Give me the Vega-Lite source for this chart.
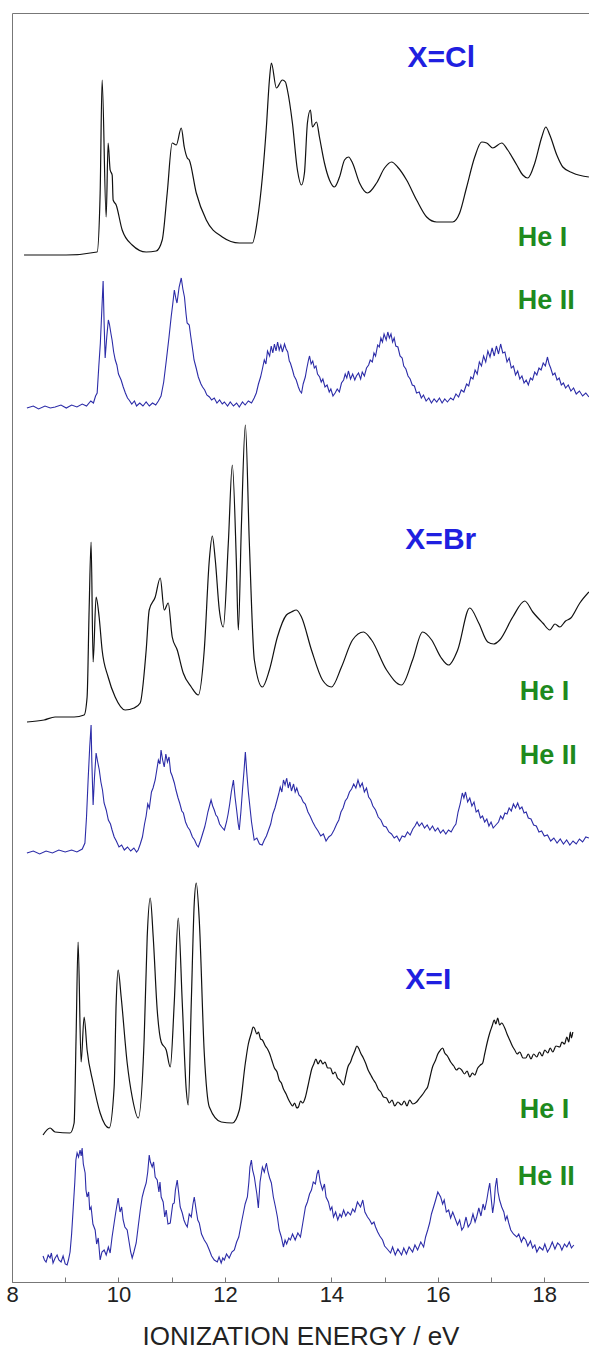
{
"$schema":"https://vega.github.io/schema/vega-lite/v6.json",
"width":577,"height":1269,
"autosize":{"type":"none"},
"padding":{"left":12,"top":13,"right":0,"bottom":74},
"background":"white",
"config":{"view":{"stroke":"#777","strokeWidth":1},"font":"Liberation Sans"},
"datasets":{
"hei":[
{"s":"ClI","e":8.226,"v":1027},{"s":"ClI","e":9.016,"v":1027},{"s":"ClI","e":9.599,"v":1030},{"s":"ClI","e":9.656,"v":1089},{"s":"ClI","e":9.693,"v":1202},{"s":"ClI","e":9.769,"v":1065},{"s":"ClI","e":9.806,"v":1139},{"s":"ClI","e":9.844,"v":1112},{"s":"ClI","e":9.882,"v":1107},{"s":"ClI","e":9.900,"v":1082},{"s":"ClI","e":9.957,"v":1077},{"s":"ClI","e":10.070,"v":1052},{"s":"ClI","e":10.258,"v":1037},{"s":"ClI","e":10.521,"v":1030},{"s":"ClI","e":10.709,"v":1031},{"s":"ClI","e":10.822,"v":1042},{"s":"ClI","e":10.916,"v":1089},{"s":"ClI","e":11.010,"v":1139},{"s":"ClI","e":11.086,"v":1137},{"s":"ClI","e":11.180,"v":1154},{"s":"ClI","e":11.236,"v":1135},{"s":"ClI","e":11.293,"v":1124},{"s":"ClI","e":11.330,"v":1122},{"s":"ClI","e":11.462,"v":1089},{"s":"ClI","e":11.650,"v":1062},{"s":"ClI","e":11.951,"v":1045},{"s":"ClI","e":12.271,"v":1039},{"s":"ClI","e":12.516,"v":1039},{"s":"ClI","e":12.610,"v":1062},{"s":"ClI","e":12.704,"v":1105},{"s":"ClI","e":12.779,"v":1155},{"s":"ClI","e":12.836,"v":1202},{"s":"ClI","e":12.873,"v":1219},{"s":"ClI","e":12.967,"v":1194},{"s":"ClI","e":13.080,"v":1202},{"s":"ClI","e":13.137,"v":1200},{"s":"ClI","e":13.174,"v":1192},{"s":"ClI","e":13.268,"v":1159},{"s":"ClI","e":13.362,"v":1112},{"s":"ClI","e":13.438,"v":1097},{"s":"ClI","e":13.494,"v":1109},{"s":"ClI","e":13.550,"v":1159},{"s":"ClI","e":13.607,"v":1172},{"s":"ClI","e":13.644,"v":1155},{"s":"ClI","e":13.720,"v":1160},{"s":"ClI","e":13.776,"v":1145},{"s":"ClI","e":13.870,"v":1119},{"s":"ClI","e":13.964,"v":1102},{"s":"ClI","e":14.058,"v":1095},{"s":"ClI","e":14.153,"v":1105},{"s":"ClI","e":14.247,"v":1122},{"s":"ClI","e":14.322,"v":1125},{"s":"ClI","e":14.397,"v":1119},{"s":"ClI","e":14.529,"v":1099},{"s":"ClI","e":14.679,"v":1089},{"s":"ClI","e":14.849,"v":1099},{"s":"ClI","e":14.999,"v":1114},{"s":"ClI","e":15.131,"v":1120},{"s":"ClI","e":15.244,"v":1115},{"s":"ClI","e":15.413,"v":1102},{"s":"ClI","e":15.601,"v":1082},{"s":"ClI","e":15.790,"v":1065},{"s":"ClI","e":15.978,"v":1060},{"s":"ClI","e":16.279,"v":1060},{"s":"ClI","e":16.410,"v":1069},{"s":"ClI","e":16.542,"v":1095},{"s":"ClI","e":16.693,"v":1125},{"s":"ClI","e":16.824,"v":1140},{"s":"ClI","e":16.918,"v":1139},{"s":"ClI","e":17.031,"v":1134},{"s":"ClI","e":17.200,"v":1139},{"s":"ClI","e":17.313,"v":1132},{"s":"ClI","e":17.483,"v":1117},{"s":"ClI","e":17.596,"v":1107},{"s":"ClI","e":17.690,"v":1104},{"s":"ClI","e":17.822,"v":1119},{"s":"ClI","e":17.953,"v":1145},{"s":"ClI","e":18.028,"v":1155},{"s":"ClI","e":18.104,"v":1147},{"s":"ClI","e":18.235,"v":1127},{"s":"ClI","e":18.348,"v":1115},{"s":"ClI","e":18.536,"v":1109},{"s":"ClI","e":18.838,"v":1105},
{"s":"BrI","e":8.282,"v":560},{"s":"BrI","e":8.602,"v":562},{"s":"BrI","e":8.809,"v":565},{"s":"BrI","e":9.167,"v":565},{"s":"BrI","e":9.355,"v":567},{"s":"BrI","e":9.411,"v":585},{"s":"BrI","e":9.449,"v":672},{"s":"BrI","e":9.486,"v":740},{"s":"BrI","e":9.524,"v":620},{"s":"BrI","e":9.580,"v":685},{"s":"BrI","e":9.637,"v":665},{"s":"BrI","e":9.693,"v":632},{"s":"BrI","e":9.806,"v":605},{"s":"BrI","e":9.938,"v":585},{"s":"BrI","e":10.126,"v":572},{"s":"BrI","e":10.295,"v":574},{"s":"BrI","e":10.408,"v":579},{"s":"BrI","e":10.521,"v":632},{"s":"BrI","e":10.578,"v":672},{"s":"BrI","e":10.691,"v":685},{"s":"BrI","e":10.785,"v":704},{"s":"BrI","e":10.860,"v":672},{"s":"BrI","e":10.935,"v":679},{"s":"BrI","e":11.010,"v":645},{"s":"BrI","e":11.104,"v":632},{"s":"BrI","e":11.217,"v":609},{"s":"BrI","e":11.368,"v":595},{"s":"BrI","e":11.500,"v":587},{"s":"BrI","e":11.612,"v":632},{"s":"BrI","e":11.707,"v":722},{"s":"BrI","e":11.763,"v":746},{"s":"BrI","e":11.819,"v":722},{"s":"BrI","e":11.895,"v":672},{"s":"BrI","e":11.970,"v":655},{"s":"BrI","e":12.064,"v":739},{"s":"BrI","e":12.139,"v":817},{"s":"BrI","e":12.214,"v":722},{"s":"BrI","e":12.252,"v":652},{"s":"BrI","e":12.309,"v":755},{"s":"BrI","e":12.384,"v":857},{"s":"BrI","e":12.459,"v":739},{"s":"BrI","e":12.553,"v":622},{"s":"BrI","e":12.704,"v":595},{"s":"BrI","e":12.836,"v":612},{"s":"BrI","e":12.986,"v":645},{"s":"BrI","e":13.155,"v":667},{"s":"BrI","e":13.25,"v":670},{"s":"BrI","e":13.343,"v":672},{"s":"BrI","e":13.438,"v":665},{"s":"BrI","e":13.626,"v":632},{"s":"BrI","e":13.833,"v":602},{"s":"BrI","e":14.002,"v":595},{"s":"BrI","e":14.190,"v":615},{"s":"BrI","e":14.397,"v":642},{"s":"BrI","e":14.604,"v":650},{"s":"BrI","e":14.755,"v":642},{"s":"BrI","e":15.037,"v":612},{"s":"BrI","e":15.319,"v":597},{"s":"BrI","e":15.526,"v":622},{"s":"BrI","e":15.714,"v":650},{"s":"BrI","e":15.884,"v":642},{"s":"BrI","e":16.053,"v":625},{"s":"BrI","e":16.203,"v":617},{"s":"BrI","e":16.373,"v":632},{"s":"BrI","e":16.599,"v":674},{"s":"BrI","e":16.768,"v":659},{"s":"BrI","e":16.937,"v":640},{"s":"BrI","e":17.05,"v":638},{"s":"BrI","e":17.163,"v":642},{"s":"BrI","e":17.408,"v":665},{"s":"BrI","e":17.633,"v":681},{"s":"BrI","e":17.784,"v":670},{"s":"BrI","e":17.972,"v":659},{"s":"BrI","e":18.104,"v":652},{"s":"BrI","e":18.20,"v":658},{"s":"BrI","e":18.292,"v":655},{"s":"BrI","e":18.40,"v":661},{"s":"BrI","e":18.499,"v":664},{"s":"BrI","e":18.668,"v":679},{"s":"BrI","e":18.838,"v":690},
{"s":"II","e":8.583,"v":147},{"s":"II","e":8.715,"v":154},{"s":"II","e":8.809,"v":150},{"s":"II","e":9.091,"v":149},{"s":"II","e":9.167,"v":159},{"s":"II","e":9.204,"v":245},{"s":"II","e":9.242,"v":340},{"s":"II","e":9.298,"v":220},{"s":"II","e":9.355,"v":265},{"s":"II","e":9.411,"v":232},{"s":"II","e":9.524,"v":199},{"s":"II","e":9.656,"v":169},{"s":"II","e":9.825,"v":154},{"s":"II","e":9.919,"v":195},{"s":"II","e":9.957,"v":279},{"s":"II","e":9.994,"v":312},{"s":"II","e":10.051,"v":285},{"s":"II","e":10.164,"v":219},{"s":"II","e":10.258,"v":185},{"s":"II","e":10.371,"v":164},{"s":"II","e":10.484,"v":245},{"s":"II","e":10.540,"v":345},{"s":"II","e":10.597,"v":384},{"s":"II","e":10.653,"v":345},{"s":"II","e":10.728,"v":272},{"s":"II","e":10.803,"v":240},{"s":"II","e":10.897,"v":232},{"s":"II","e":10.973,"v":215},{"s":"II","e":11.048,"v":279},{"s":"II","e":11.123,"v":364},{"s":"II","e":11.199,"v":279},{"s":"II","e":11.274,"v":192},{"s":"II","e":11.311,"v":177},{"s":"II","e":11.368,"v":279},{"s":"II","e":11.424,"v":379},{"s":"II","e":11.462,"v":399},{"s":"II","e":11.518,"v":362},{"s":"II","e":11.612,"v":229},{"s":"II","e":11.707,"v":175},{"s":"II","e":11.932,"v":160},{"s":"II","e":12.139,"v":159},{"s":"II","e":12.271,"v":172},{"s":"II","e":12.384,"v":219},{"s":"II","e":12.44,"v":238},{"s":"II","e":12.497,"v":249},{"s":"II","e":12.53,"v":255},{"s":"II","e":12.553,"v":254},{"s":"II","e":12.60,"v":248},{"s":"II","e":12.63,"v":250},{"s":"II","e":12.67,"v":243},{"s":"II","e":12.704,"v":242},{"s":"II","e":12.76,"v":236},{"s":"II","e":12.80,"v":233},{"s":"II","e":12.836,"v":229},{"s":"II","e":12.88,"v":222},{"s":"II","e":12.93,"v":214},{"s":"II","e":12.98,"v":210},{"s":"II","e":13.02,"v":202},{"s":"II","e":13.061,"v":199},{"s":"II","e":13.10,"v":193},{"s":"II","e":13.15,"v":188},{"s":"II","e":13.19,"v":183},{"s":"II","e":13.230,"v":179},{"s":"II","e":13.27,"v":176},{"s":"II","e":13.31,"v":179},{"s":"II","e":13.35,"v":174},{"s":"II","e":13.381,"v":175},{"s":"II","e":13.42,"v":181},{"s":"II","e":13.46,"v":179},{"s":"II","e":13.513,"v":185},{"s":"II","e":13.56,"v":196},{"s":"II","e":13.60,"v":206},{"s":"II","e":13.626,"v":212},{"s":"II","e":13.67,"v":218},{"s":"II","e":13.71,"v":223},{"s":"II","e":13.75,"v":218},{"s":"II","e":13.795,"v":222},{"s":"II","e":13.84,"v":218},{"s":"II","e":13.88,"v":220},{"s":"II","e":13.93,"v":214},{"s":"II","e":13.983,"v":214},{"s":"II","e":14.03,"v":208},{"s":"II","e":14.07,"v":210},{"s":"II","e":14.115,"v":204},{"s":"II","e":14.16,"v":202},{"s":"II","e":14.228,"v":197},{"s":"II","e":14.27,"v":206},{"s":"II","e":14.31,"v":215},{"s":"II","e":14.360,"v":220},{"s":"II","e":14.40,"v":226},{"s":"II","e":14.44,"v":231},{"s":"II","e":14.48,"v":236},{"s":"II","e":14.510,"v":234},{"s":"II","e":14.55,"v":229},{"s":"II","e":14.60,"v":224},{"s":"II","e":14.642,"v":219},{"s":"II","e":14.69,"v":212},{"s":"II","e":14.74,"v":207},{"s":"II","e":14.78,"v":203},{"s":"II","e":14.830,"v":199},{"s":"II","e":14.88,"v":193},{"s":"II","e":14.93,"v":190},{"s":"II","e":14.98,"v":185},{"s":"II","e":15.037,"v":184},{"s":"II","e":15.09,"v":179},{"s":"II","e":15.14,"v":182},{"s":"II","e":15.19,"v":176},{"s":"II","e":15.25,"v":180},{"s":"II","e":15.319,"v":177},{"s":"II","e":15.37,"v":181},{"s":"II","e":15.42,"v":176},{"s":"II","e":15.47,"v":182},{"s":"II","e":15.53,"v":178},{"s":"II","e":15.601,"v":180},{"s":"II","e":15.66,"v":184},{"s":"II","e":15.72,"v":188},{"s":"II","e":15.77,"v":192},{"s":"II","e":15.808,"v":195},{"s":"II","e":15.85,"v":204},{"s":"II","e":15.90,"v":215},{"s":"II","e":15.959,"v":222},{"s":"II","e":16.00,"v":228},{"s":"II","e":16.05,"v":232},{"s":"II","e":16.091,"v":234},{"s":"II","e":16.13,"v":229},{"s":"II","e":16.18,"v":226},{"s":"II","e":16.241,"v":220},{"s":"II","e":16.30,"v":216},{"s":"II","e":16.35,"v":212},{"s":"II","e":16.40,"v":214},{"s":"II","e":16.448,"v":212},{"s":"II","e":16.50,"v":208},{"s":"II","e":16.55,"v":211},{"s":"II","e":16.60,"v":205},{"s":"II","e":16.65,"v":209},{"s":"II","e":16.693,"v":207},{"s":"II","e":16.75,"v":214},{"s":"II","e":16.80,"v":217},{"s":"II","e":16.843,"v":219},{"s":"II","e":16.88,"v":228},{"s":"II","e":16.93,"v":240},{"s":"II","e":16.975,"v":249},{"s":"II","e":17.02,"v":256},{"s":"II","e":17.06,"v":262},{"s":"II","e":17.09,"v":258},{"s":"II","e":17.125,"v":264},{"s":"II","e":17.16,"v":257},{"s":"II","e":17.20,"v":259},{"s":"II","e":17.257,"v":254},{"s":"II","e":17.30,"v":248},{"s":"II","e":17.35,"v":242},{"s":"II","e":17.40,"v":236},{"s":"II","e":17.445,"v":232},{"s":"II","e":17.49,"v":228},{"s":"II","e":17.54,"v":230},{"s":"II","e":17.60,"v":224},{"s":"II","e":17.652,"v":224},{"s":"II","e":17.70,"v":228},{"s":"II","e":17.75,"v":223},{"s":"II","e":17.80,"v":228},{"s":"II","e":17.859,"v":225},{"s":"II","e":17.91,"v":230},{"s":"II","e":17.96,"v":226},{"s":"II","e":18.01,"v":232},{"s":"II","e":18.066,"v":229},{"s":"II","e":18.11,"v":234},{"s":"II","e":18.16,"v":230},{"s":"II","e":18.22,"v":236},{"s":"II","e":18.292,"v":235},{"s":"II","e":18.33,"v":240},{"s":"II","e":18.38,"v":238},{"s":"II","e":18.424,"v":245},{"s":"II","e":18.46,"v":240},{"s":"II","e":18.49,"v":250},{"s":"II","e":18.51,"v":244},{"s":"II","e":18.536,"v":250}
],
"heii":[
{"s":"ClII","e":8.28,"v":874},{"s":"ClII","e":8.40,"v":876},{"s":"ClII","e":8.50,"v":873},{"s":"ClII","e":8.62,"v":876},{"s":"ClII","e":8.72,"v":874},{"s":"ClII","e":8.81,"v":875},{"s":"ClII","e":8.92,"v":877},{"s":"ClII","e":9.02,"v":874},{"s":"ClII","e":9.12,"v":877},{"s":"ClII","e":9.22,"v":875},{"s":"ClII","e":9.32,"v":878},{"s":"ClII","e":9.40,"v":876},{"s":"ClII","e":9.48,"v":881},{"s":"ClII","e":9.53,"v":879},{"s":"ClII","e":9.57,"v":886},{"s":"ClII","e":9.60,"v":889},{"s":"ClII","e":9.63,"v":915},{"s":"ClII","e":9.66,"v":939},{"s":"ClII","e":9.69,"v":975},{"s":"ClII","e":9.712,"v":1001},{"s":"ClII","e":9.73,"v":960},{"s":"ClII","e":9.75,"v":924},{"s":"ClII","e":9.78,"v":945},{"s":"ClII","e":9.81,"v":962},{"s":"ClII","e":9.83,"v":958},{"s":"ClII","e":9.86,"v":948},{"s":"ClII","e":9.88,"v":942},{"s":"ClII","e":9.91,"v":930},{"s":"ClII","e":9.94,"v":922},{"s":"ClII","e":9.97,"v":917},{"s":"ClII","e":10.00,"v":908},{"s":"ClII","e":10.05,"v":902},{"s":"ClII","e":10.09,"v":895},{"s":"ClII","e":10.13,"v":889},{"s":"ClII","e":10.17,"v":884},{"s":"ClII","e":10.20,"v":882},{"s":"ClII","e":10.25,"v":878},{"s":"ClII","e":10.30,"v":881},{"s":"ClII","e":10.34,"v":876},{"s":"ClII","e":10.40,"v":879},{"s":"ClII","e":10.46,"v":876},{"s":"ClII","e":10.52,"v":880},{"s":"ClII","e":10.58,"v":876},{"s":"ClII","e":10.64,"v":879},{"s":"ClII","e":10.70,"v":877},{"s":"ClII","e":10.75,"v":881},{"s":"ClII","e":10.80,"v":886},{"s":"ClII","e":10.85,"v":900},{"s":"ClII","e":10.90,"v":922},{"s":"ClII","e":10.95,"v":945},{"s":"ClII","e":10.99,"v":965},{"s":"ClII","e":11.02,"v":978},{"s":"ClII","e":11.05,"v":992},{"s":"ClII","e":11.08,"v":983},{"s":"ClII","e":11.10,"v":979},{"s":"ClII","e":11.14,"v":995},{"s":"ClII","e":11.18,"v":1004},{"s":"ClII","e":11.21,"v":993},{"s":"ClII","e":11.24,"v":985},{"s":"ClII","e":11.27,"v":968},{"s":"ClII","e":11.29,"v":959},{"s":"ClII","e":11.33,"v":957},{"s":"ClII","e":11.36,"v":945},{"s":"ClII","e":11.40,"v":930},{"s":"ClII","e":11.42,"v":922},{"s":"ClII","e":11.46,"v":914},{"s":"ClII","e":11.50,"v":905},{"s":"ClII","e":11.55,"v":898},{"s":"ClII","e":11.58,"v":895},{"s":"ClII","e":11.62,"v":892},{"s":"ClII","e":11.66,"v":887},{"s":"ClII","e":11.71,"v":885},{"s":"ClII","e":11.75,"v":882},{"s":"ClII","e":11.80,"v":884},{"s":"ClII","e":11.85,"v":879},{"s":"ClII","e":11.90,"v":882},{"s":"ClII","e":11.95,"v":878},{"s":"ClII","e":11.99,"v":880},{"s":"ClII","e":12.05,"v":876},{"s":"ClII","e":12.10,"v":880},{"s":"ClII","e":12.16,"v":876},{"s":"ClII","e":12.22,"v":879},{"s":"ClII","e":12.27,"v":875},{"s":"ClII","e":12.33,"v":880},{"s":"ClII","e":12.38,"v":877},{"s":"ClII","e":12.44,"v":881},{"s":"ClII","e":12.50,"v":879},{"s":"ClII","e":12.55,"v":884},{"s":"ClII","e":12.59,"v":889},{"s":"ClII","e":12.63,"v":898},{"s":"ClII","e":12.67,"v":905},{"s":"ClII","e":12.70,"v":912},{"s":"ClII","e":12.74,"v":922},{"s":"ClII","e":12.77,"v":918},{"s":"ClII","e":12.80,"v":931},{"s":"ClII","e":12.84,"v":926},{"s":"ClII","e":12.87,"v":936},{"s":"ClII","e":12.90,"v":929},{"s":"ClII","e":12.93,"v":938},{"s":"ClII","e":12.96,"v":931},{"s":"ClII","e":12.99,"v":940},{"s":"ClII","e":13.02,"v":932},{"s":"ClII","e":13.05,"v":937},{"s":"ClII","e":13.08,"v":930},{"s":"ClII","e":13.12,"v":938},{"s":"ClII","e":13.15,"v":933},{"s":"ClII","e":13.18,"v":930},{"s":"ClII","e":13.21,"v":921},{"s":"ClII","e":13.23,"v":919},{"s":"ClII","e":13.27,"v":912},{"s":"ClII","e":13.30,"v":906},{"s":"ClII","e":13.34,"v":902},{"s":"ClII","e":13.38,"v":895},{"s":"ClII","e":13.41,"v":891},{"s":"ClII","e":13.44,"v":889},{"s":"ClII","e":13.47,"v":898},{"s":"ClII","e":13.51,"v":905},{"s":"ClII","e":13.54,"v":914},{"s":"ClII","e":13.57,"v":922},{"s":"ClII","e":13.59,"v":926},{"s":"ClII","e":13.62,"v":918},{"s":"ClII","e":13.65,"v":921},{"s":"ClII","e":13.68,"v":914},{"s":"ClII","e":13.71,"v":916},{"s":"ClII","e":13.74,"v":908},{"s":"ClII","e":13.78,"v":905},{"s":"ClII","e":13.81,"v":900},{"s":"ClII","e":13.84,"v":903},{"s":"ClII","e":13.88,"v":895},{"s":"ClII","e":13.92,"v":897},{"s":"ClII","e":13.96,"v":890},{"s":"ClII","e":13.99,"v":893},{"s":"ClII","e":14.03,"v":886},{"s":"ClII","e":14.07,"v":889},{"s":"ClII","e":14.11,"v":893},{"s":"ClII","e":14.15,"v":890},{"s":"ClII","e":14.19,"v":899},{"s":"ClII","e":14.23,"v":902},{"s":"ClII","e":14.26,"v":908},{"s":"ClII","e":14.29,"v":904},{"s":"ClII","e":14.32,"v":911},{"s":"ClII","e":14.36,"v":903},{"s":"ClII","e":14.40,"v":908},{"s":"ClII","e":14.44,"v":902},{"s":"ClII","e":14.47,"v":906},{"s":"ClII","e":14.51,"v":909},{"s":"ClII","e":14.55,"v":903},{"s":"ClII","e":14.58,"v":910},{"s":"ClII","e":14.62,"v":906},{"s":"ClII","e":14.66,"v":914},{"s":"ClII","e":14.70,"v":917},{"s":"ClII","e":14.73,"v":922},{"s":"ClII","e":14.77,"v":920},{"s":"ClII","e":14.80,"v":929},{"s":"ClII","e":14.83,"v":926},{"s":"ClII","e":14.87,"v":937},{"s":"ClII","e":14.90,"v":935},{"s":"ClII","e":14.93,"v":944},{"s":"ClII","e":14.96,"v":940},{"s":"ClII","e":14.99,"v":948},{"s":"ClII","e":15.03,"v":942},{"s":"ClII","e":15.06,"v":950},{"s":"ClII","e":15.09,"v":944},{"s":"ClII","e":15.12,"v":948},{"s":"ClII","e":15.15,"v":940},{"s":"ClII","e":15.18,"v":944},{"s":"ClII","e":15.21,"v":936},{"s":"ClII","e":15.25,"v":935},{"s":"ClII","e":15.29,"v":926},{"s":"ClII","e":15.33,"v":924},{"s":"ClII","e":15.36,"v":916},{"s":"ClII","e":15.40,"v":913},{"s":"ClII","e":15.44,"v":906},{"s":"ClII","e":15.48,"v":903},{"s":"ClII","e":15.52,"v":897},{"s":"ClII","e":15.56,"v":896},{"s":"ClII","e":15.60,"v":889},{"s":"ClII","e":15.65,"v":890},{"s":"ClII","e":15.69,"v":884},{"s":"ClII","e":15.73,"v":887},{"s":"ClII","e":15.78,"v":881},{"s":"ClII","e":15.83,"v":884},{"s":"ClII","e":15.88,"v":879},{"s":"ClII","e":15.93,"v":883},{"s":"ClII","e":15.98,"v":880},{"s":"ClII","e":16.03,"v":884},{"s":"ClII","e":16.08,"v":879},{"s":"ClII","e":16.13,"v":883},{"s":"ClII","e":16.18,"v":880},{"s":"ClII","e":16.24,"v":884},{"s":"ClII","e":16.29,"v":882},{"s":"ClII","e":16.34,"v":888},{"s":"ClII","e":16.39,"v":885},{"s":"ClII","e":16.44,"v":892},{"s":"ClII","e":16.49,"v":890},{"s":"ClII","e":16.54,"v":898},{"s":"ClII","e":16.58,"v":896},{"s":"ClII","e":16.62,"v":905},{"s":"ClII","e":16.66,"v":903},{"s":"ClII","e":16.70,"v":912},{"s":"ClII","e":16.74,"v":908},{"s":"ClII","e":16.78,"v":920},{"s":"ClII","e":16.82,"v":916},{"s":"ClII","e":16.86,"v":926},{"s":"ClII","e":16.90,"v":920},{"s":"ClII","e":16.94,"v":931},{"s":"ClII","e":16.98,"v":925},{"s":"ClII","e":17.02,"v":934},{"s":"ClII","e":17.06,"v":926},{"s":"ClII","e":17.10,"v":936},{"s":"ClII","e":17.14,"v":928},{"s":"ClII","e":17.18,"v":938},{"s":"ClII","e":17.22,"v":929},{"s":"ClII","e":17.26,"v":930},{"s":"ClII","e":17.30,"v":920},{"s":"ClII","e":17.34,"v":924},{"s":"ClII","e":17.38,"v":914},{"s":"ClII","e":17.42,"v":916},{"s":"ClII","e":17.46,"v":907},{"s":"ClII","e":17.50,"v":911},{"s":"ClII","e":17.54,"v":903},{"s":"ClII","e":17.58,"v":906},{"s":"ClII","e":17.62,"v":899},{"s":"ClII","e":17.66,"v":902},{"s":"ClII","e":17.70,"v":897},{"s":"ClII","e":17.74,"v":904},{"s":"ClII","e":17.78,"v":902},{"s":"ClII","e":17.82,"v":910},{"s":"ClII","e":17.86,"v":907},{"s":"ClII","e":17.90,"v":914},{"s":"ClII","e":17.94,"v":912},{"s":"ClII","e":17.98,"v":919},{"s":"ClII","e":18.02,"v":916},{"s":"ClII","e":18.06,"v":925},{"s":"ClII","e":18.09,"v":918},{"s":"ClII","e":18.12,"v":914},{"s":"ClII","e":18.16,"v":907},{"s":"ClII","e":18.20,"v":909},{"s":"ClII","e":18.24,"v":902},{"s":"ClII","e":18.28,"v":904},{"s":"ClII","e":18.32,"v":897},{"s":"ClII","e":18.36,"v":899},{"s":"ClII","e":18.40,"v":894},{"s":"ClII","e":18.45,"v":897},{"s":"ClII","e":18.50,"v":891},{"s":"ClII","e":18.55,"v":894},{"s":"ClII","e":18.60,"v":888},{"s":"ClII","e":18.66,"v":891},{"s":"ClII","e":18.72,"v":886},{"s":"ClII","e":18.78,"v":889},{"s":"ClII","e":18.838,"v":885},
{"s":"BrII","e":8.28,"v":429},{"s":"BrII","e":8.40,"v":431},{"s":"BrII","e":8.52,"v":428},{"s":"BrII","e":8.64,"v":431},{"s":"BrII","e":8.76,"v":429},{"s":"BrII","e":8.88,"v":432},{"s":"BrII","e":9.00,"v":430},{"s":"BrII","e":9.12,"v":432},{"s":"BrII","e":9.22,"v":430},{"s":"BrII","e":9.32,"v":433},{"s":"BrII","e":9.37,"v":439},{"s":"BrII","e":9.40,"v":465},{"s":"BrII","e":9.43,"v":502},{"s":"BrII","e":9.46,"v":535},{"s":"BrII","e":9.486,"v":557},{"s":"BrII","e":9.50,"v":520},{"s":"BrII","e":9.524,"v":477},{"s":"BrII","e":9.55,"v":505},{"s":"BrII","e":9.58,"v":529},{"s":"BrII","e":9.61,"v":520},{"s":"BrII","e":9.64,"v":512},{"s":"BrII","e":9.67,"v":500},{"s":"BrII","e":9.70,"v":492},{"s":"BrII","e":9.73,"v":479},{"s":"BrII","e":9.77,"v":472},{"s":"BrII","e":9.81,"v":462},{"s":"BrII","e":9.85,"v":458},{"s":"BrII","e":9.88,"v":452},{"s":"BrII","e":9.92,"v":445},{"s":"BrII","e":9.96,"v":441},{"s":"BrII","e":10.01,"v":435},{"s":"BrII","e":10.06,"v":437},{"s":"BrII","e":10.11,"v":432},{"s":"BrII","e":10.17,"v":435},{"s":"BrII","e":10.23,"v":431},{"s":"BrII","e":10.29,"v":434},{"s":"BrII","e":10.34,"v":430},{"s":"BrII","e":10.37,"v":432},{"s":"BrII","e":10.41,"v":438},{"s":"BrII","e":10.45,"v":445},{"s":"BrII","e":10.49,"v":458},{"s":"BrII","e":10.52,"v":466},{"s":"BrII","e":10.55,"v":478},{"s":"BrII","e":10.58,"v":474},{"s":"BrII","e":10.62,"v":490},{"s":"BrII","e":10.65,"v":494},{"s":"BrII","e":10.69,"v":502},{"s":"BrII","e":10.72,"v":512},{"s":"BrII","e":10.75,"v":522},{"s":"BrII","e":10.78,"v":518},{"s":"BrII","e":10.80,"v":532},{"s":"BrII","e":10.83,"v":522},{"s":"BrII","e":10.86,"v":515},{"s":"BrII","e":10.89,"v":528},{"s":"BrII","e":10.92,"v":520},{"s":"BrII","e":10.95,"v":525},{"s":"BrII","e":10.98,"v":510},{"s":"BrII","e":11.01,"v":506},{"s":"BrII","e":11.05,"v":499},{"s":"BrII","e":11.08,"v":492},{"s":"BrII","e":11.12,"v":484},{"s":"BrII","e":11.15,"v":479},{"s":"BrII","e":11.19,"v":471},{"s":"BrII","e":11.22,"v":469},{"s":"BrII","e":11.26,"v":460},{"s":"BrII","e":11.30,"v":455},{"s":"BrII","e":11.34,"v":452},{"s":"BrII","e":11.39,"v":445},{"s":"BrII","e":11.43,"v":442},{"s":"BrII","e":11.47,"v":437},{"s":"BrII","e":11.50,"v":435},{"s":"BrII","e":11.54,"v":441},{"s":"BrII","e":11.58,"v":448},{"s":"BrII","e":11.62,"v":455},{"s":"BrII","e":11.65,"v":462},{"s":"BrII","e":11.68,"v":470},{"s":"BrII","e":11.71,"v":476},{"s":"BrII","e":11.74,"v":482},{"s":"BrII","e":11.77,"v":476},{"s":"BrII","e":11.80,"v":472},{"s":"BrII","e":11.83,"v":467},{"s":"BrII","e":11.86,"v":465},{"s":"BrII","e":11.90,"v":458},{"s":"BrII","e":11.94,"v":455},{"s":"BrII","e":11.99,"v":452},{"s":"BrII","e":12.03,"v":460},{"s":"BrII","e":12.06,"v":468},{"s":"BrII","e":12.09,"v":478},{"s":"BrII","e":12.12,"v":490},{"s":"BrII","e":12.16,"v":502},{"s":"BrII","e":12.19,"v":485},{"s":"BrII","e":12.22,"v":472},{"s":"BrII","e":12.25,"v":458},{"s":"BrII","e":12.27,"v":452},{"s":"BrII","e":12.30,"v":470},{"s":"BrII","e":12.33,"v":492},{"s":"BrII","e":12.36,"v":512},{"s":"BrII","e":12.384,"v":530},{"s":"BrII","e":12.41,"v":510},{"s":"BrII","e":12.44,"v":490},{"s":"BrII","e":12.47,"v":475},{"s":"BrII","e":12.50,"v":460},{"s":"BrII","e":12.55,"v":442},{"s":"BrII","e":12.60,"v":444},{"s":"BrII","e":12.65,"v":438},{"s":"BrII","e":12.70,"v":437},{"s":"BrII","e":12.74,"v":442},{"s":"BrII","e":12.78,"v":446},{"s":"BrII","e":12.82,"v":452},{"s":"BrII","e":12.86,"v":458},{"s":"BrII","e":12.90,"v":468},{"s":"BrII","e":12.94,"v":474},{"s":"BrII","e":12.98,"v":482},{"s":"BrII","e":13.01,"v":488},{"s":"BrII","e":13.04,"v":495},{"s":"BrII","e":13.07,"v":490},{"s":"BrII","e":13.10,"v":502},{"s":"BrII","e":13.13,"v":497},{"s":"BrII","e":13.16,"v":504},{"s":"BrII","e":13.19,"v":494},{"s":"BrII","e":13.22,"v":500},{"s":"BrII","e":13.25,"v":491},{"s":"BrII","e":13.29,"v":498},{"s":"BrII","e":13.32,"v":490},{"s":"BrII","e":13.35,"v":494},{"s":"BrII","e":13.39,"v":487},{"s":"BrII","e":13.43,"v":485},{"s":"BrII","e":13.47,"v":480},{"s":"BrII","e":13.51,"v":478},{"s":"BrII","e":13.56,"v":470},{"s":"BrII","e":13.60,"v":466},{"s":"BrII","e":13.65,"v":460},{"s":"BrII","e":13.70,"v":455},{"s":"BrII","e":13.75,"v":451},{"s":"BrII","e":13.80,"v":446},{"s":"BrII","e":13.85,"v":448},{"s":"BrII","e":13.90,"v":441},{"s":"BrII","e":13.95,"v":445},{"s":"BrII","e":14.00,"v":447},{"s":"BrII","e":14.05,"v":452},{"s":"BrII","e":14.10,"v":458},{"s":"BrII","e":14.14,"v":462},{"s":"BrII","e":14.18,"v":470},{"s":"BrII","e":14.22,"v":474},{"s":"BrII","e":14.26,"v":481},{"s":"BrII","e":14.30,"v":484},{"s":"BrII","e":14.34,"v":490},{"s":"BrII","e":14.38,"v":493},{"s":"BrII","e":14.42,"v":498},{"s":"BrII","e":14.46,"v":494},{"s":"BrII","e":14.50,"v":502},{"s":"BrII","e":14.54,"v":495},{"s":"BrII","e":14.58,"v":499},{"s":"BrII","e":14.62,"v":490},{"s":"BrII","e":14.66,"v":494},{"s":"BrII","e":14.70,"v":485},{"s":"BrII","e":14.74,"v":482},{"s":"BrII","e":14.78,"v":476},{"s":"BrII","e":14.83,"v":472},{"s":"BrII","e":14.88,"v":465},{"s":"BrII","e":14.93,"v":462},{"s":"BrII","e":14.98,"v":456},{"s":"BrII","e":15.03,"v":455},{"s":"BrII","e":15.08,"v":450},{"s":"BrII","e":15.13,"v":448},{"s":"BrII","e":15.18,"v":444},{"s":"BrII","e":15.23,"v":446},{"s":"BrII","e":15.28,"v":441},{"s":"BrII","e":15.33,"v":446},{"s":"BrII","e":15.38,"v":445},{"s":"BrII","e":15.43,"v":450},{"s":"BrII","e":15.48,"v":447},{"s":"BrII","e":15.53,"v":453},{"s":"BrII","e":15.57,"v":456},{"s":"BrII","e":15.61,"v":460},{"s":"BrII","e":15.65,"v":456},{"s":"BrII","e":15.70,"v":459},{"s":"BrII","e":15.75,"v":454},{"s":"BrII","e":15.80,"v":457},{"s":"BrII","e":15.85,"v":452},{"s":"BrII","e":15.90,"v":456},{"s":"BrII","e":15.95,"v":451},{"s":"BrII","e":16.00,"v":454},{"s":"BrII","e":16.05,"v":449},{"s":"BrII","e":16.10,"v":452},{"s":"BrII","e":16.15,"v":448},{"s":"BrII","e":16.20,"v":452},{"s":"BrII","e":16.25,"v":450},{"s":"BrII","e":16.30,"v":455},{"s":"BrII","e":16.34,"v":458},{"s":"BrII","e":16.38,"v":470},{"s":"BrII","e":16.42,"v":478},{"s":"BrII","e":16.46,"v":489},{"s":"BrII","e":16.49,"v":484},{"s":"BrII","e":16.52,"v":490},{"s":"BrII","e":16.56,"v":480},{"s":"BrII","e":16.60,"v":484},{"s":"BrII","e":16.64,"v":476},{"s":"BrII","e":16.68,"v":480},{"s":"BrII","e":16.72,"v":470},{"s":"BrII","e":16.76,"v":472},{"s":"BrII","e":16.80,"v":464},{"s":"BrII","e":16.84,"v":466},{"s":"BrII","e":16.88,"v":460},{"s":"BrII","e":16.92,"v":463},{"s":"BrII","e":16.96,"v":456},{"s":"BrII","e":17.00,"v":460},{"s":"BrII","e":17.04,"v":454},{"s":"BrII","e":17.09,"v":457},{"s":"BrII","e":17.14,"v":460},{"s":"BrII","e":17.18,"v":466},{"s":"BrII","e":17.22,"v":463},{"s":"BrII","e":17.26,"v":469},{"s":"BrII","e":17.30,"v":468},{"s":"BrII","e":17.34,"v":474},{"s":"BrII","e":17.38,"v":471},{"s":"BrII","e":17.42,"v":478},{"s":"BrII","e":17.46,"v":474},{"s":"BrII","e":17.50,"v":479},{"s":"BrII","e":17.54,"v":473},{"s":"BrII","e":17.58,"v":475},{"s":"BrII","e":17.62,"v":469},{"s":"BrII","e":17.66,"v":470},{"s":"BrII","e":17.70,"v":464},{"s":"BrII","e":17.75,"v":463},{"s":"BrII","e":17.80,"v":457},{"s":"BrII","e":17.85,"v":456},{"s":"BrII","e":17.90,"v":450},{"s":"BrII","e":17.95,"v":451},{"s":"BrII","e":18.00,"v":446},{"s":"BrII","e":18.06,"v":447},{"s":"BrII","e":18.12,"v":441},{"s":"BrII","e":18.18,"v":444},{"s":"BrII","e":18.24,"v":439},{"s":"BrII","e":18.30,"v":443},{"s":"BrII","e":18.36,"v":438},{"s":"BrII","e":18.42,"v":442},{"s":"BrII","e":18.48,"v":437},{"s":"BrII","e":18.54,"v":441},{"s":"BrII","e":18.60,"v":438},{"s":"BrII","e":18.66,"v":443},{"s":"BrII","e":18.72,"v":440},{"s":"BrII","e":18.78,"v":445},{"s":"BrII","e":18.838,"v":444},
{"s":"III","e":8.583,"v":26},{"s":"III","e":8.61,"v":22},{"s":"III","e":8.640,"v":20},{"s":"III","e":8.68,"v":27},{"s":"III","e":8.715,"v":24},{"s":"III","e":8.74,"v":29},{"s":"III","e":8.771,"v":19},{"s":"III","e":8.81,"v":24},{"s":"III","e":8.847,"v":27},{"s":"III","e":8.88,"v":22},{"s":"III","e":8.922,"v":20},{"s":"III","e":8.96,"v":26},{"s":"III","e":9.00,"v":18},{"s":"III","e":9.035,"v":17},{"s":"III","e":9.06,"v":22},{"s":"III","e":9.091,"v":30},{"s":"III","e":9.12,"v":48},{"s":"III","e":9.148,"v":72},{"s":"III","e":9.18,"v":100},{"s":"III","e":9.20,"v":122},{"s":"III","e":9.223,"v":129},{"s":"III","e":9.25,"v":125},{"s":"III","e":9.279,"v":132},{"s":"III","e":9.30,"v":126},{"s":"III","e":9.317,"v":134},{"s":"III","e":9.34,"v":118},{"s":"III","e":9.374,"v":109},{"s":"III","e":9.39,"v":92},{"s":"III","e":9.411,"v":85},{"s":"III","e":9.44,"v":90},{"s":"III","e":9.46,"v":72},{"s":"III","e":9.486,"v":75},{"s":"III","e":9.52,"v":58},{"s":"III","e":9.562,"v":52},{"s":"III","e":9.59,"v":38},{"s":"III","e":9.62,"v":44},{"s":"III","e":9.656,"v":22},{"s":"III","e":9.69,"v":30},{"s":"III","e":9.731,"v":32},{"s":"III","e":9.77,"v":27},{"s":"III","e":9.81,"v":35},{"s":"III","e":9.844,"v":29},{"s":"III","e":9.88,"v":45},{"s":"III","e":9.919,"v":59},{"s":"III","e":9.95,"v":70},{"s":"III","e":9.994,"v":84},{"s":"III","e":10.03,"v":70},{"s":"III","e":10.06,"v":75},{"s":"III","e":10.088,"v":62},{"s":"III","e":10.12,"v":55},{"s":"III","e":10.164,"v":52},{"s":"III","e":10.20,"v":40},{"s":"III","e":10.23,"v":30},{"s":"III","e":10.258,"v":24},{"s":"III","e":10.29,"v":30},{"s":"III","e":10.333,"v":39},{"s":"III","e":10.37,"v":55},{"s":"III","e":10.41,"v":72},{"s":"III","e":10.446,"v":85},{"s":"III","e":10.48,"v":92},{"s":"III","e":10.521,"v":99},{"s":"III","e":10.55,"v":110},{"s":"III","e":10.578,"v":127},{"s":"III","e":10.60,"v":120},{"s":"III","e":10.634,"v":115},{"s":"III","e":10.66,"v":120},{"s":"III","e":10.69,"v":105},{"s":"III","e":10.728,"v":102},{"s":"III","e":10.76,"v":90},{"s":"III","e":10.78,"v":100},{"s":"III","e":10.803,"v":85},{"s":"III","e":10.84,"v":80},{"s":"III","e":10.87,"v":65},{"s":"III","e":10.897,"v":72},{"s":"III","e":10.93,"v":58},{"s":"III","e":10.973,"v":59},{"s":"III","e":11.00,"v":70},{"s":"III","e":11.02,"v":78},{"s":"III","e":11.048,"v":79},{"s":"III","e":11.07,"v":92},{"s":"III","e":11.104,"v":102},{"s":"III","e":11.13,"v":90},{"s":"III","e":11.16,"v":75},{"s":"III","e":11.199,"v":69},{"s":"III","e":11.23,"v":62},{"s":"III","e":11.26,"v":58},{"s":"III","e":11.293,"v":55},{"s":"III","e":11.33,"v":68},{"s":"III","e":11.368,"v":65},{"s":"III","e":11.40,"v":78},{"s":"III","e":11.424,"v":85},{"s":"III","e":11.46,"v":72},{"s":"III","e":11.49,"v":62},{"s":"III","e":11.518,"v":59},{"s":"III","e":11.56,"v":48},{"s":"III","e":11.612,"v":42},{"s":"III","e":11.66,"v":38},{"s":"III","e":11.707,"v":32},{"s":"III","e":11.75,"v":26},{"s":"III","e":11.80,"v":22},{"s":"III","e":11.857,"v":20},{"s":"III","e":11.89,"v":25},{"s":"III","e":11.93,"v":19},{"s":"III","e":11.96,"v":24},{"s":"III","e":11.989,"v":22},{"s":"III","e":12.03,"v":28},{"s":"III","e":12.08,"v":24},{"s":"III","e":12.13,"v":30},{"s":"III","e":12.177,"v":32},{"s":"III","e":12.22,"v":40},{"s":"III","e":12.26,"v":45},{"s":"III","e":12.309,"v":59},{"s":"III","e":12.35,"v":70},{"s":"III","e":12.38,"v":78},{"s":"III","e":12.422,"v":85},{"s":"III","e":12.45,"v":100},{"s":"III","e":12.47,"v":115},{"s":"III","e":12.497,"v":122},{"s":"III","e":12.52,"v":112},{"s":"III","e":12.553,"v":105},{"s":"III","e":12.58,"v":95},{"s":"III","e":12.60,"v":88},{"s":"III","e":12.628,"v":74},{"s":"III","e":12.66,"v":100},{"s":"III","e":12.704,"v":115},{"s":"III","e":12.74,"v":110},{"s":"III","e":12.779,"v":119},{"s":"III","e":12.81,"v":110},{"s":"III","e":12.84,"v":104},{"s":"III","e":12.873,"v":99},{"s":"III","e":12.91,"v":85},{"s":"III","e":12.95,"v":75},{"s":"III","e":12.986,"v":65},{"s":"III","e":13.02,"v":52},{"s":"III","e":13.06,"v":45},{"s":"III","e":13.099,"v":35},{"s":"III","e":13.13,"v":42},{"s":"III","e":13.16,"v":38},{"s":"III","e":13.20,"v":44},{"s":"III","e":13.230,"v":42},{"s":"III","e":13.27,"v":48},{"s":"III","e":13.32,"v":42},{"s":"III","e":13.37,"v":49},{"s":"III","e":13.419,"v":45},{"s":"III","e":13.46,"v":58},{"s":"III","e":13.513,"v":75},{"s":"III","e":13.55,"v":80},{"s":"III","e":13.59,"v":88},{"s":"III","e":13.626,"v":92},{"s":"III","e":13.66,"v":100},{"s":"III","e":13.70,"v":98},{"s":"III","e":13.73,"v":108},{"s":"III","e":13.757,"v":112},{"s":"III","e":13.79,"v":100},{"s":"III","e":13.833,"v":92},{"s":"III","e":13.87,"v":98},{"s":"III","e":13.90,"v":85},{"s":"III","e":13.945,"v":80},{"s":"III","e":13.98,"v":72},{"s":"III","e":14.01,"v":75},{"s":"III","e":14.040,"v":65},{"s":"III","e":14.08,"v":70},{"s":"III","e":14.12,"v":62},{"s":"III","e":14.16,"v":68},{"s":"III","e":14.190,"v":65},{"s":"III","e":14.23,"v":72},{"s":"III","e":14.27,"v":66},{"s":"III","e":14.31,"v":70},{"s":"III","e":14.360,"v":67},{"s":"III","e":14.40,"v":73},{"s":"III","e":14.44,"v":70},{"s":"III","e":14.49,"v":80},{"s":"III","e":14.548,"v":75},{"s":"III","e":14.59,"v":82},{"s":"III","e":14.63,"v":70},{"s":"III","e":14.679,"v":65},{"s":"III","e":14.72,"v":62},{"s":"III","e":14.76,"v":58},{"s":"III","e":14.80,"v":60},{"s":"III","e":14.830,"v":55},{"s":"III","e":14.87,"v":50},{"s":"III","e":14.91,"v":46},{"s":"III","e":14.962,"v":42},{"s":"III","e":15.00,"v":36},{"s":"III","e":15.05,"v":33},{"s":"III","e":15.112,"v":29},{"s":"III","e":15.15,"v":35},{"s":"III","e":15.20,"v":27},{"s":"III","e":15.25,"v":33},{"s":"III","e":15.319,"v":27},{"s":"III","e":15.36,"v":34},{"s":"III","e":15.41,"v":28},{"s":"III","e":15.46,"v":35},{"s":"III","e":15.526,"v":30},{"s":"III","e":15.57,"v":37},{"s":"III","e":15.62,"v":32},{"s":"III","e":15.68,"v":40},{"s":"III","e":15.733,"v":35},{"s":"III","e":15.77,"v":45},{"s":"III","e":15.81,"v":52},{"s":"III","e":15.846,"v":59},{"s":"III","e":15.88,"v":68},{"s":"III","e":15.92,"v":75},{"s":"III","e":15.959,"v":82},{"s":"III","e":16.00,"v":90},{"s":"III","e":16.053,"v":85},{"s":"III","e":16.09,"v":78},{"s":"III","e":16.12,"v":82},{"s":"III","e":16.16,"v":70},{"s":"III","e":16.203,"v":72},{"s":"III","e":16.24,"v":64},{"s":"III","e":16.28,"v":70},{"s":"III","e":16.335,"v":62},{"s":"III","e":16.37,"v":57},{"s":"III","e":16.41,"v":62},{"s":"III","e":16.45,"v":52},{"s":"III","e":16.486,"v":55},{"s":"III","e":16.53,"v":65},{"s":"III","e":16.57,"v":55},{"s":"III","e":16.617,"v":59},{"s":"III","e":16.66,"v":68},{"s":"III","e":16.70,"v":60},{"s":"III","e":16.730,"v":65},{"s":"III","e":16.77,"v":74},{"s":"III","e":16.81,"v":66},{"s":"III","e":16.85,"v":78},{"s":"III","e":16.881,"v":72},{"s":"III","e":16.92,"v":82},{"s":"III","e":16.95,"v":92},{"s":"III","e":16.975,"v":99},{"s":"III","e":17.00,"v":85},{"s":"III","e":17.030,"v":69},{"s":"III","e":17.06,"v":80},{"s":"III","e":17.08,"v":95},{"s":"III","e":17.106,"v":104},{"s":"III","e":17.13,"v":90},{"s":"III","e":17.16,"v":82},{"s":"III","e":17.200,"v":75},{"s":"III","e":17.24,"v":70},{"s":"III","e":17.27,"v":62},{"s":"III","e":17.30,"v":66},{"s":"III","e":17.332,"v":59},{"s":"III","e":17.37,"v":52},{"s":"III","e":17.42,"v":48},{"s":"III","e":17.483,"v":45},{"s":"III","e":17.52,"v":48},{"s":"III","e":17.57,"v":40},{"s":"III","e":17.61,"v":45},{"s":"III","e":17.652,"v":42},{"s":"III","e":17.69,"v":36},{"s":"III","e":17.74,"v":41},{"s":"III","e":17.78,"v":34},{"s":"III","e":17.822,"v":37},{"s":"III","e":17.86,"v":30},{"s":"III","e":17.91,"v":35},{"s":"III","e":17.972,"v":32},{"s":"III","e":18.01,"v":38},{"s":"III","e":18.06,"v":30},{"s":"III","e":18.104,"v":34},{"s":"III","e":18.15,"v":40},{"s":"III","e":18.20,"v":33},{"s":"III","e":18.25,"v":39},{"s":"III","e":18.292,"v":37},{"s":"III","e":18.33,"v":32},{"s":"III","e":18.38,"v":38},{"s":"III","e":18.424,"v":35},{"s":"III","e":18.47,"v":40},{"s":"III","e":18.51,"v":34},{"s":"III","e":18.555,"v":37}
],
"lab":[
{"k":"mol","t":"X=Cl","e":15.43,"v":1224},
{"k":"src","t":"He I","e":17.50,"v":1044},
{"k":"src","t":"He II","e":17.50,"v":981},
{"k":"mol","t":"X=Br","e":15.39,"v":742},
{"k":"src","t":"He I","e":17.54,"v":590},
{"k":"src","t":"He II","e":17.54,"v":526},
{"k":"mol","t":"X=I","e":15.39,"v":302},
{"k":"src","t":"He I","e":17.54,"v":172},
{"k":"src","t":"He II","e":17.50,"v":105}
]
},
"encoding":{
  "x":{"field":"e","type":"quantitative","scale":{"domain":[8,18.84],"nice":false,"zero":false},
   "axis":{"values":[8,9,10,11,12,13,14,15,16,17,18],"labelExpr":"datum.value % 2 === 0 ? datum.label : ''","title":"IONIZATION ENERGY / eV","grid":false,"tickSize":-5,"tickColor":"#777","domainColor":"#777","labelFontSize":22,"labelColor":"#222","labelPadding":7,"titleFontSize":26,"titleFontWeight":"normal","titleColor":"#222","titlePadding":18,"labelFlush":false}},
  "y":{"field":"v","type":"quantitative","scale":{"domain":[0,1269],"nice":false,"zero":false},"axis":null}
},
"layer":[
{"data":{"name":"hei"},
 "mark":{"type":"line","strokeWidth":1.2,"interpolate":"monotone","color":"#111111"},
 "encoding":{"detail":{"field":"s","type":"nominal"}}},
{"data":{"name":"heii"},
 "mark":{"type":"line","strokeWidth":1.1,"color":"#2c2ca8"},
 "encoding":{"detail":{"field":"s","type":"nominal"}}},
{"data":{"name":"lab"},"transform":[{"filter":"datum.k==='mol'"}],
 "mark":{"type":"text","align":"left","baseline":"middle","fontSize":30,"fontWeight":"bold","color":"#1f1fe0"},
 "encoding":{"text":{"field":"t"}}},
{"data":{"name":"lab"},"transform":[{"filter":"datum.k==='src'"}],
 "mark":{"type":"text","align":"left","baseline":"middle","fontSize":27,"fontWeight":"bold","color":"#1e8a1e"},
 "encoding":{"text":{"field":"t"}}}
]
}
